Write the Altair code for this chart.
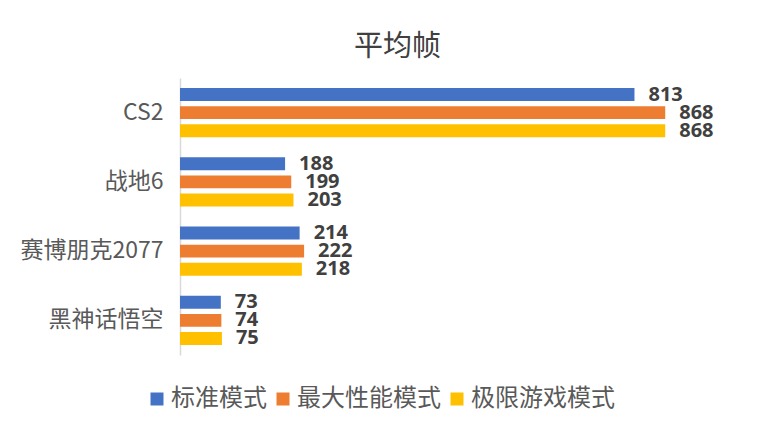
import altair as alt
import pandas as pd

games = ["CS2", "战地6", "赛博朋克2077", "黑神话悟空"]
modes = ["标准模式", "最大性能模式", "极限游戏模式"]
standard = [813, 188, 214, 73]
maxperf = [868, 199, 222, 74]
extreme = [868, 203, 218, 75]
colors = ["#4472C4", "#ED7D31", "#FFC000"]

rows = []
for i, g in enumerate(games):
    for m, vals in zip(modes, [standard, maxperf, extreme]):
        rows.append({"game": g, "mode": m, "fps": vals[i]})
df = pd.DataFrame(rows)

FONT = "Noto Sans CJK SC"

y_enc = alt.Y("game:N", sort=games, title=None,
              scale=alt.Scale(paddingInner=0, paddingOuter=0),
              axis=alt.Axis(labelFont=FONT, labelFontSize=23, labelColor="#595959",
                            ticks=False, domainColor="#D9D9D9", domainWidth=1.5,
                            labelPadding=17, grid=False))
yoff = alt.YOffset("mode:N", sort=modes,
                   scale=alt.Scale(paddingInner=0.28, paddingOuter=0.56))
x_enc = alt.X("fps:Q", scale=alt.Scale(domain=[0, 1000]), axis=None)

bars = alt.Chart(df).mark_bar().encode(
    x=x_enc, y=y_enc, yOffset=yoff,
    color=alt.Color("mode:N", sort=modes,
                    scale=alt.Scale(domain=modes, range=colors),
                    legend=alt.Legend(title=None, orient="none", direction="horizontal",
                                      legendX=-35, legendY=309,
                                      symbolType="square", symbolSize=169,
                                      symbolStrokeWidth=0,
                                      labelFont=FONT, labelFontSize=24,
                                      labelColor="#595959", labelOffset=2,
                                      columnPadding=4, labelLimit=300)),
)

labels = alt.Chart(df).mark_text(
    align="left", baseline="middle", dx=14, font="Open Sans",
    fontSize=20, fontWeight="bold", color="#404040"
).encode(x=x_enc, y=alt.Y("game:N", sort=games), yOffset=yoff, text="fps:Q")

chart = alt.layer(bars, labels).properties(
    width=559, height=277,
    title=alt.TitleParams("平均帧", font=FONT, fontSize=29, fontWeight="normal",
                          color="#404040", anchor="middle", dx=-62, offset=16),
    autosize=alt.AutoSizeParams(type="none"),
    padding={"left": 172, "top": 70, "right": 15, "bottom": 63},
).configure(background="white", view=alt.ViewConfig(stroke=None))

chart.save("out.html", embed_options={"renderer": "svg", "actions": False})
